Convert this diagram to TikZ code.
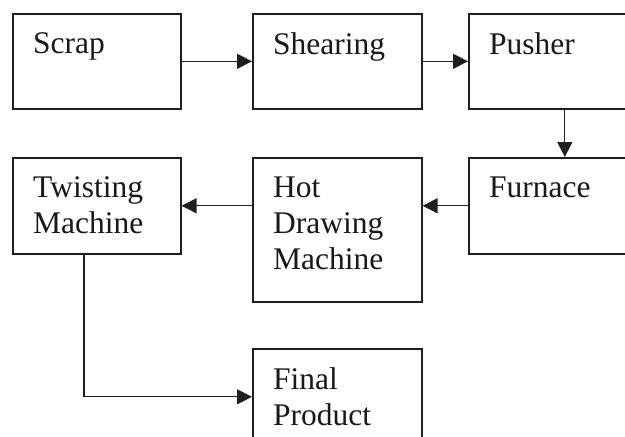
\documentclass[tikz,border=0pt]{standalone}
\usepackage{fontspec}
\setmainfont{Liberation Serif}
\usetikzlibrary{arrows.meta,calc}
\begin{document}
\begin{tikzpicture}[x=1pt,y=-1pt,
  box/.style={draw=black!88, line width=1.6pt, rectangle, inner sep=0pt, anchor=north west},
  lbl/.style={anchor=north west, inner sep=0pt, align=left, font=\fontsize{31.5}{36}\selectfont, text=black!90},
  flow/.style={draw=black!88, line width=1.3pt, -{Triangle[length=15pt,width=15pt]}}
]
\useasboundingbox (0,0) rectangle (625,437);
\clip (0,0) rectangle (625,437);
\fill[white] (0,0) rectangle (625,437);

\node[box, minimum width=168pt, minimum height=95pt] (scrap) at (12,13) {};
\node[box, minimum width=169pt, minimum height=95pt] (shear) at (252,13) {};
\node[box, minimum width=192pt, minimum height=95pt] (push) at (468,13) {};
\node[box, minimum width=192pt, minimum height=96pt] (furn) at (468,157) {};
\node[box, minimum width=169pt, minimum height=144pt] (hot) at (252,157) {};
\node[box, minimum width=168pt, minimum height=96pt] (twist) at (12,157) {};
\node[box, minimum width=169pt, minimum height=96pt] (final) at (252,348) {};

\node[lbl] (scrapT) at ($(scrap.north west)+(21,19.5)$) {Scrap};
\node[lbl] (shearT) at ($(shear.north west)+(21,19.5)$) {Shearing};
\node[lbl] (pushT) at ($(push.north west)+(21,19.5)$) {Pusher};
\node[lbl] (furnT) at ($(furn.north west)+(21,19.5)$) {Furnace};
\node[lbl] (hotT) at ($(hot.north west)+(21,19.5)$) {Hot\\Drawing\\Machine};
\node[lbl] (twistT) at ($(twist.north west)+(21,19.5)$) {Twisting\\Machine};
\node[lbl] (finalT) at ($(final.north west)+(21,19.5)$) {Final\\Product};

\draw[flow] (scrap.east) -- (shear.west);
\draw[flow] (shear.east) -- (push.west);
\draw[flow] (push.south) -- (furn.north);
\draw[flow] (furn.west) -- (furn.west -| hot.east);
\draw[flow] (twist.east -| hot.west) -- (twist.east);
\coordinate (tdrop) at ($(twist.south west)+(72,0)$);
\draw[flow] (tdrop) |- (final.west);
\end{tikzpicture}
\end{document}
